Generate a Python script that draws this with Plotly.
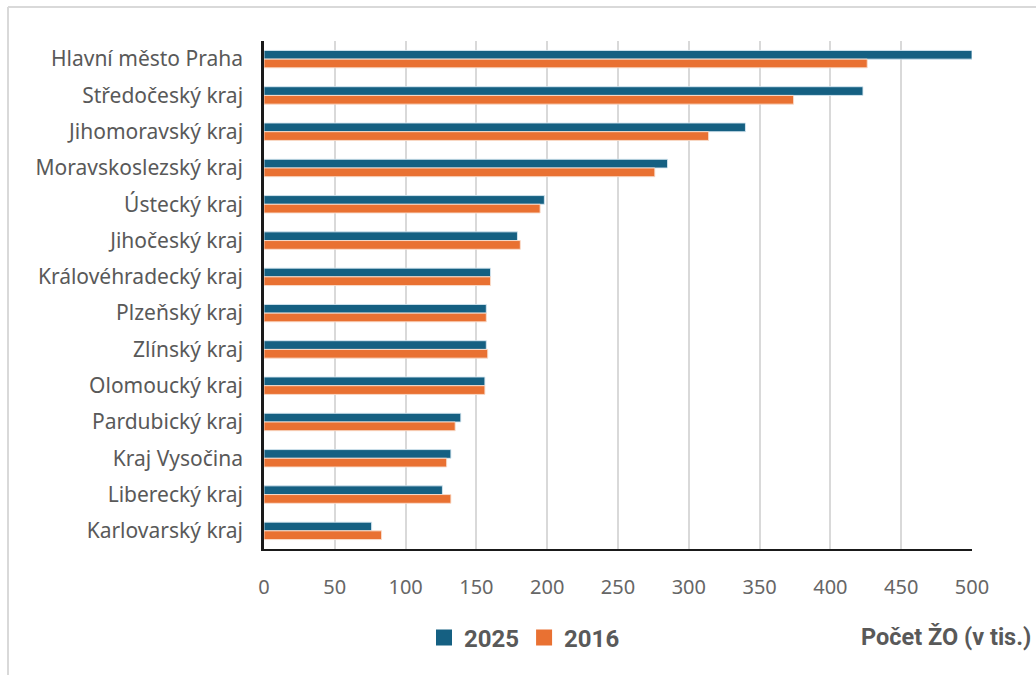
import plotly.graph_objects as go

regions = ["Hlavní město Praha", "Středočeský kraj", "Jihomoravský kraj", "Moravskoslezský kraj",
           "Ústecký kraj", "Jihočeský kraj", "Královéhradecký kraj", "Plzeňský kraj",
           "Zlínský kraj", "Olomoucký kraj", "Pardubický kraj", "Kraj Vysočina",
           "Liberecký kraj", "Karlovarský kraj"]
values_2025 = [500, 423, 340, 285, 198, 179, 160, 157, 157, 156, 139, 132, 126, 76]
values_2016 = [426, 374, 314, 276, 195, 181, 160, 157, 158, 156, 135, 129, 132, 83]
x_ticks = [0, 50, 100, 150, 200, 250, 300, 350, 400, 450, 500]
series_names = ["2025", "2016"]
series_colors = ["#156082", "#E97132"]

W, H = 1036, 675
L, R, T, B = 264, 972, 41, 549


def px_x(p):
    return (p - L) / (R - L)


def px_y(p):
    return (B - p) / (B - T)


fig = go.Figure()
edge_colors = ["rgba(215,232,242,0.9)", "rgba(250,222,205,0.9)"]
for name, vals, col, ec in zip(series_names, [values_2025, values_2016], series_colors, edge_colors):
    fig.add_trace(go.Bar(y=regions, x=vals, orientation="h", name=name, showlegend=False,
                         marker=dict(color=col, line=dict(color=ec, width=1))))
# legend entries with larger square symbols
for name, col in zip(series_names, series_colors):
    fig.add_trace(go.Scatter(x=[None], y=[None], mode="markers", name=name,
                             marker=dict(symbol="square", size=17, color=col)))

fig.update_layout(
    width=W, height=H,
    margin=dict(l=L, r=W - R, t=T, b=H - B, pad=0),
    paper_bgcolor="white", plot_bgcolor="white",
    barmode="group", bargap=0.52, bargroupgap=0,
    font=dict(family="Noto Sans", color="#595959"),
    legend=dict(orientation="h", x=px_x(424), xanchor="left",
                y=px_y(638), yanchor="middle",
                font=dict(size=24, color="#595959", family="Roboto", weight="bold"),
                traceorder="normal", itemwidth=30, tracegroupgap=0),
    showlegend=True,
)
fig.update_xaxes(range=[0, 500], tickvals=x_ticks, showgrid=True, gridcolor="#d9d9d9", gridwidth=1.5,
                 zeroline=False, showline=True, linecolor="#1a1a1a", linewidth=2,
                 tickfont=dict(size=20, color="#666666"), ticks="", ticklabelstandoff=19)
fig.update_yaxes(autorange="reversed", showgrid=False, showline=True, linecolor="#1a1a1a", linewidth=2.5,
                 tickfont=dict(size=21, color="#595959"), ticks="", ticklabelstandoff=14)

fig.add_annotation(text="<b>Počet ŽO (v tis.)</b>", xref="paper", yref="paper",
                   x=px_x(1033), xanchor="right", y=px_y(637), yanchor="middle",
                   showarrow=False, font=dict(size=23.5, color="#595959", family="Roboto"))

# outer frame (left and top edges visible)
fig.add_shape(type="line", xref="paper", yref="paper",
              x0=px_x(8), x1=px_x(8), y0=px_y(675), y1=px_y(7),
              line=dict(color="#d9d9d9", width=2))
fig.add_shape(type="line", xref="paper", yref="paper",
              x0=px_x(8), x1=px_x(1036), y0=px_y(7), y1=px_y(7),
              line=dict(color="#d9d9d9", width=2))

fig.write_html("out.html", config={"displayModeBar": False},
               post_script="document.body.style.margin='0';document.body.style.overflow='hidden';")
